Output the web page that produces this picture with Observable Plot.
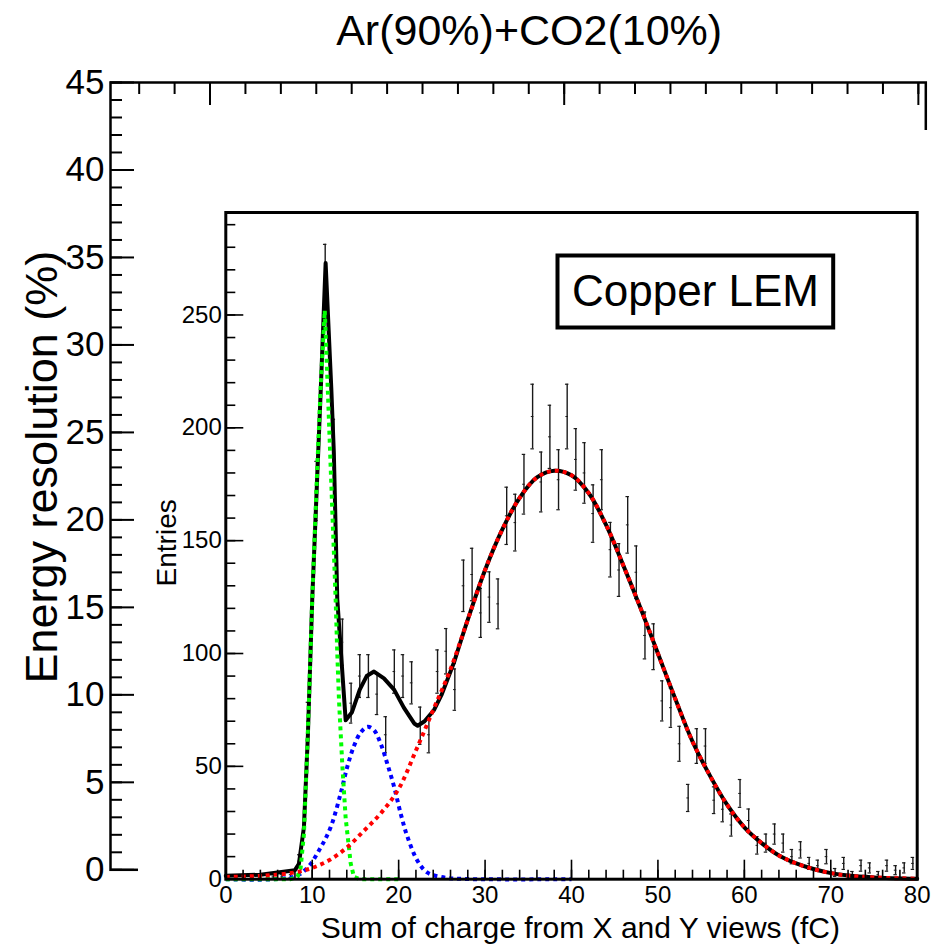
<!DOCTYPE html>
<html>
<head>
<meta charset="utf-8">
<script src="https://cdn.jsdelivr.net/npm/d3@7"></script>
<script src="https://cdn.jsdelivr.net/npm/@observablehq/plot@0.6"></script>
<style>
  html, body { margin: 0; padding: 0; background: white; }
  #wrap { position: relative; width: 939px; height: 947px; overflow: hidden; }
  #outer { position: absolute; left: 0; top: 0; }
  #inset { position: absolute; left: 138px; top: 130px; }
</style>
</head>
<body>
<div id="wrap"><div id="outer"></div><div id="inset"></div></div>
<script>
// ---------- text ----------
const titleText = "Ar(90%)+CO2(10%)";
const outerYTitle = "Energy resolution (%)";
const insetYTitle = "Entries";
const insetXTitle = "Sum of charge from X and Y views (fC)";
const legendText = "Copper LEM";

// ---------- outer frame ticks ----------
const outerYMajor = [0, 5, 10, 15, 20, 25, 30, 35, 40, 45];
const outerYMinor = [0,1,2,3,4,5,6,7,8,9,10,11,12,13,14,15,16,17,18,19,20,21,22,23,24,25,26,27,28,29,30,31,32,33,34,35,36,37,38,39,40,41,42,43,44,45];
const outerXMinor = [0,1,2,3,4,5,6,7,8,9,10,11,12,13,14,15,16,17,18,19,20,21,22];
const outerXMajor = [2, 12, 22];

// ---------- inset histogram (bin width 1 fC, bins 0..79) ----------
const counts = [0,0,0,0,0,1,1,2,8,70,
  172,265,190,105,78,90,90,82,64,92,
  90,87,68,64,92,101,84,130,135,118,
  125,122,161,158,175,205,176,196,177,205,
  186,180,162,177,146,137,157,136,108,103,
  79,76,60,36,59,59,35,31,24,38,
  26,15,16,20,16,10,13,7,6,10,
  3,7,2,6,5,2,6,4,5,7];

const insetXMajor = [0, 10, 20, 30, 40, 50, 60, 70, 80];
const insetXMinor = [0,2,4,6,8,10,12,14,16,18,20,22,24,26,28,30,32,34,36,38,40,42,44,46,48,50,52,54,56,58,60,62,64,66,68,70,72,74,76,78,80];
const insetYMajor = [0, 50, 100, 150, 200, 250];
const insetYMinor = [0,10,20,30,40,50,60,70,80,90,100,110,120,130,140,150,160,170,180,190,200,210,220,230,240,250,260,270,280,290];

// ---------- fit curves ----------
const totalX = [0,4,8,8.46,9.04,9.5,10.0,11.0,11.55,12.2,12.5,12.9,13.87,14.6,15.5,16.3,17.15,18.3,19.47,20.6,21.8,22.2,23.0,24.1,25.0,26.4,28,30,32,34,36,38,40,42,44,46,48,50,52,54,56,58,60,62,64,66,68,70,72,75,80];
const totalY = [1.5,2,4,6.8,23,64,124,218,273,218,189,124,70.4,74,84,90,92,89,84,76,69,68,70,75,82,96,115,137,155,169,178,181,179,171,157,139,120,100,80,61,46,33,23,16,10.5,7,4.5,2.7,1.6,0.8,0.2];

const peak1X = [0,7.5,8.3,8.66,9.04,9.35,9.62,10.0,10.59,11.0,11.45,11.85,12.13,12.71,12.9,13.1,13.49,13.87,14.45,14.83,15.5,20];
const peak1Y = [0,0,1,5,20,50,79,124,183,220,252,212,183,124,100,79,50,27,7,1,0,0];

const peak2X = [0,7.8,9.43,10.97,12.13,13.29,14.07,14.83,15.6,16.4,17.15,17.93,18.7,19.47,20.24,21.0,22.2,23.3,24.9,27,40];
const peak2Y = [0,1,5,14,23,38,50,59,65,67.5,66,60,51,41,29,19,8,3,1,0.2,0];

const peak3X = [0,4,8,10,12,14,16,18,20,22,24,26,28,30,32,34,36,38,40,42,44,46,48,50,52,54,56,58,60,62,64,66,68,70,72,75,80];
const peak3Y = [1,1.5,3,5,8.5,14,21.5,29.5,40,57,75,93,115,137,155,169,178,181,179,171,157,139,120,100,80,61,46,33,23,16,10.5,7,4.5,2.7,1.6,0.8,0.2];

// ---------- build tables ----------
const bins = counts.map((n, i) => ({x: i + 0.5, n, e: Math.sqrt(n)})).filter(d => d.n > 0);
const pts = (xs, ys) => xs.map((x, i) => ({x, y: ys[i]}));
const total = pts(totalX, totalY), g1 = pts(peak1X, peak1Y), g2 = pts(peak2X, peak2Y), g3 = pts(peak3X, peak3Y);
const totalLow = total.filter(d => d.x <= 26.4);
const totalHigh = total.filter(d => d.x >= 26.4);

const FONT = "'Liberation Sans', Arial, Helvetica, sans-serif";
const blank = () => "";
const dotted = {strokeWidth: 4, strokeDasharray: "4,4", strokeLinecap: "butt", strokeLinejoin: "miter"};

// ---------- outer frame (Energy resolution) ----------
const outer = Plot.plot({
  width: 939, height: 947,
  marginLeft: 110, marginRight: 13.7, marginTop: 82, marginBottom: 77.7,
  x: {domain: [-0.81, 22.21], axis: null},
  y: {domain: [0, 45], axis: null},
  style: {fontFamily: FONT, background: "white", color: "black", overflow: "visible"},
  marks: [
    Plot.frame({stroke: "black", strokeWidth: 2.5}),
    Plot.axisY(outerYMinor, {anchor: "left", tickSize: -12, tickFormat: blank, strokeWidth: 2, label: null}),
    Plot.axisY(outerYMajor, {anchor: "left", tickSize: -24, tickPadding: 30, fontSize: 35, strokeWidth: 2, label: null, tickFormat: d => String(d)}),
    Plot.axisX(outerXMinor, {anchor: "top", tickSize: -11, tickFormat: blank, strokeWidth: 2, label: null}),
    Plot.axisX(outerXMajor, {anchor: "top", tickSize: -22, tickFormat: blank, strokeWidth: 2, label: null}),
    Plot.text([outerYTitle], {text: d => d, frameAnchor: "left", textAnchor: "middle", lineAnchor: "middle", rotate: -90, dx: -67.7, dy: -9, fontSize: 45, fill: "black"}),
    Plot.text([titleText], {text: d => d, frameAnchor: "top", textAnchor: "middle", lineAnchor: "middle", dx: 11, dy: -51, fontSize: 43, fill: "black"})
  ]
});
document.getElementById("outer").appendChild(outer);

// ---------- inset histogram ----------
const inset = Plot.plot({
  width: 801, height: 817,
  marginLeft: 87.3, marginRight: 22.3, marginTop: 82, marginBottom: 68.3,
  x: {domain: [0, 80], axis: null},
  y: {domain: [0, 295.4], axis: null},
  style: {fontFamily: FONT, background: "white", color: "black", overflow: "visible"},
  marks: [
    // error bars
    Plot.ruleX(bins, {x: "x", y1: d => d.n - d.e, y2: d => d.n + d.e, stroke: "#1a1a1a", strokeWidth: 1.4}),
    Plot.ruleY(bins, {y: d => d.n + d.e, x1: d => d.x - 0.2, x2: d => d.x + 0.2, stroke: "#1a1a1a", strokeWidth: 1.2}),
    Plot.ruleY(bins, {y: d => d.n - d.e, x1: d => d.x - 0.2, x2: d => d.x + 0.2, stroke: "#1a1a1a", strokeWidth: 1.2}),
    Plot.ruleY(bins, {y: "n", x1: d => d.x - 0.15, x2: d => d.x + 0.15, stroke: "#1a1a1a", strokeWidth: 1}),
    // fit curves
    Plot.line(totalLow, {x: "x", y: "y", stroke: "black", strokeWidth: 4, curve: "linear"}),
    Plot.line(totalHigh, {x: "x", y: "y", stroke: "black", strokeWidth: 4, curve: "catmull-rom"}),
    Plot.line(g2, {x: "x", y: "y", stroke: "#0000ff", ...dotted, curve: "catmull-rom"}),
    Plot.line(g1, {x: "x", y: "y", stroke: "#00ff00", ...dotted, curve: "linear"}),
    Plot.line(g3, {x: "x", y: "y", stroke: "#ff0000", ...dotted, curve: "catmull-rom"}),
    // frame & axes
    Plot.frame({stroke: "black", strokeWidth: 3}),
    Plot.axisY(insetYMinor, {anchor: "left", tickSize: -10, tickFormat: blank, strokeWidth: 1.6, label: null}),
    Plot.axisY(insetYMajor, {anchor: "left", tickSize: -18, tickPadding: 22, fontSize: 24, strokeWidth: 1.6, label: null, tickFormat: d => String(d)}),
    Plot.axisX(insetXMinor, {anchor: "bottom", tickSize: -9, tickFormat: blank, strokeWidth: 1.6, label: null}),
    Plot.axisX(insetXMajor, {anchor: "bottom", tickSize: -19, tickPadding: 26, fontSize: 24, strokeWidth: 1.6, label: null, tickFormat: d => String(d)}),
    Plot.text([insetYTitle], {text: d => d, frameAnchor: "left", textAnchor: "middle", lineAnchor: "middle", rotate: -90, dx: -59, dy: -3, fontSize: 28, fill: "black"}),
    Plot.text([insetXTitle], {text: d => d, frameAnchor: "bottom-left", textAnchor: "start", lineAnchor: "middle", dx: 95, dy: 49, fontSize: 30, fill: "black"}),
    // legend box
    Plot.frame({insetLeft: 331.7, insetRight: 84, insetTop: 43, insetBottom: 551.7, stroke: "black", strokeWidth: 4, fill: "white"}),
    Plot.text([legendText], {text: d => d, frameAnchor: "top-left", textAnchor: "middle", lineAnchor: "middle", dx: 469.7, dy: 79, fontSize: 44, fill: "black"})
  ]
});
document.getElementById("inset").appendChild(inset);
</script>
</body>
</html>
